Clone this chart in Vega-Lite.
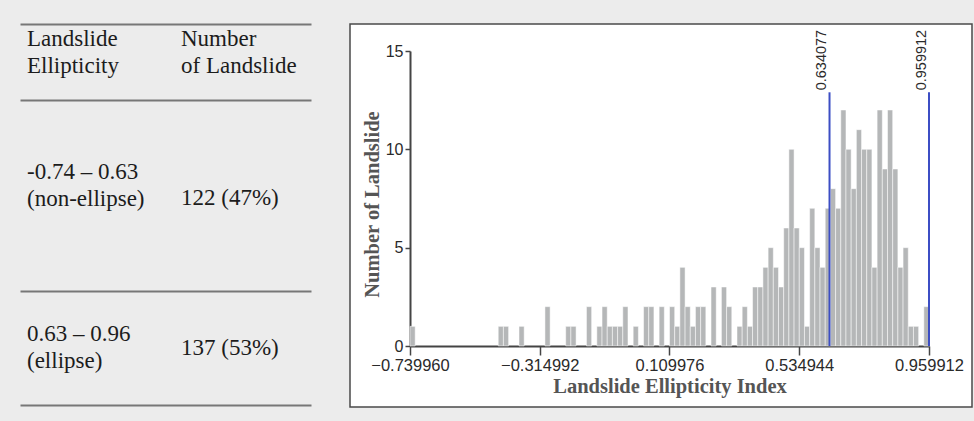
{
  "$schema": "https://vega.github.io/schema/vega-lite/v6.json",
  "background": "#ececec",
  "padding": {"left": 20, "top": 23, "right": 3, "bottom": 15},
  "config": {
    "view": {"stroke": null},
    "text": {"font": "Liberation Serif", "fontSize": 23, "color": "#1c1c1c", "lineHeight": 27, "align": "left", "baseline": "middle"}
  },
  "spacing": 38,
  "hconcat": [
    {
      "spacing": 0,
      "vconcat": [
        {
          "width": 291, "height": 76,
          "data": {"values": [
            {"row": "header", "col": "Landslide Ellipticity", "text": ["Landslide", "Ellipticity"]},
            {"row": "header", "col": "Number of Landslide", "text": ["Number", "of Landslide"]}
          ]},
          "mark": {"type": "text", "dy": -23},
          "encoding": {
            "x": {"field": "col", "type": "nominal", "scale": {"type": "point", "padding": 0.4448, "align": 0.0511},
                  "axis": {"orient": "top", "title": null, "labels": false, "ticks": false, "domain": true, "domainColor": "#777777", "domainWidth": 2, "grid": false}},
            "y": {"field": "row", "type": "nominal", "axis": null},
            "text": {"field": "text"}
          }
        },
        {
          "width": 291, "height": 191,
          "data": {"values": [
            {"row": "non-ellipse", "col": "Landslide Ellipticity", "text": ["-0.74 – 0.63", "(non-ellipse)"]},
            {"row": "non-ellipse", "col": "Number of Landslide", "text": "122 (47%)"}
          ]},
          "encoding": {
            "x": {"field": "col", "type": "nominal", "scale": {"type": "point", "padding": 0.4448, "align": 0.0511},
                  "axis": {"orient": "top", "title": null, "labels": false, "ticks": false, "domain": true, "domainColor": "#777777", "domainWidth": 2, "grid": false}},
            "y": {"field": "row", "type": "nominal", "axis": null},
            "text": {"field": "text"}
          },
          "layer": [
            {"transform": [{"filter": "datum.col === 'Landslide Ellipticity'"}], "mark": {"type": "text", "dy": -23.5}},
            {"transform": [{"filter": "datum.col === 'Number of Landslide'"}], "mark": {"type": "text", "dy": 2}}
          ]
        },
        {
          "width": 291, "height": 114,
          "data": {"values": [
            {"row": "ellipse", "col": "Landslide Ellipticity", "text": ["0.63 – 0.96", "(ellipse)"]},
            {"row": "ellipse", "col": "Number of Landslide", "text": "137 (53%)"}
          ]},
          "layer": [
            {
              "transform": [{"filter": "datum.col === 'Landslide Ellipticity'"}],
              "mark": {"type": "text", "dy": -14.5},
              "encoding": {
                "x": {"field": "col", "type": "nominal", "scale": {"type": "point", "padding": 0.4448, "align": 0.0511, "domain": ["Landslide Ellipticity", "Number of Landslide"]},
                      "axis": {"orient": "top", "title": null, "labels": false, "ticks": false, "domain": true, "domainColor": "#777777", "domainWidth": 2, "grid": false}},
                "y": {"field": "row", "type": "nominal", "axis": null},
                "text": {"field": "text"}
              }
            },
            {
              "transform": [{"filter": "datum.col === 'Number of Landslide'"}],
              "mark": {"type": "text"},
              "encoding": {
                "x": {"field": "col", "type": "nominal", "scale": {"type": "point", "padding": 0.4448, "align": 0.0511, "domain": ["Landslide Ellipticity", "Number of Landslide"]},
                      "axis": {"orient": "bottom", "title": null, "labels": false, "ticks": false, "domain": true, "domainColor": "#777777", "domainWidth": 2, "grid": false}},
                "y": {"field": "row", "type": "nominal", "axis": null},
                "text": {"field": "text"}
              }
            }
          ],
          "resolve": {"scale": {"x": "independent"}, "axis": {"x": "independent"}}
        }
      ]
    },
    {
      "width": 622, "height": 383,
      "view": {"fill": "white", "stroke": "#4a4a4a", "strokeWidth": 1.5},
      "layer": [
        {
          "data": {"values": [
            {"x0": -0.73996, "x1": -0.723, "count": 1},
            {"x0": -0.451, "x1": -0.434, "count": 1},
            {"x0": -0.434, "x1": -0.417, "count": 1},
            {"x0": -0.383, "x1": -0.366, "count": 1},
            {"x0": -0.298, "x1": -0.281, "count": 2},
            {"x0": -0.230, "x1": -0.213, "count": 1},
            {"x0": -0.213, "x1": -0.196, "count": 1},
            {"x0": -0.162, "x1": -0.145, "count": 2},
            {"x0": -0.128, "x1": -0.111, "count": 1},
            {"x0": -0.111, "x1": -0.094, "count": 2},
            {"x0": -0.094, "x1": -0.077, "count": 1},
            {"x0": -0.077, "x1": -0.060, "count": 1},
            {"x0": -0.060, "x1": -0.043, "count": 1},
            {"x0": -0.043, "x1": -0.026, "count": 2},
            {"x0": -0.009, "x1": 0.008, "count": 1},
            {"x0": 0.025, "x1": 0.042, "count": 2},
            {"x0": 0.042, "x1": 0.059, "count": 2},
            {"x0": 0.076, "x1": 0.093, "count": 2},
            {"x0": 0.110, "x1": 0.127, "count": 2},
            {"x0": 0.127, "x1": 0.144, "count": 1},
            {"x0": 0.144, "x1": 0.161, "count": 4},
            {"x0": 0.161, "x1": 0.178, "count": 2},
            {"x0": 0.178, "x1": 0.195, "count": 1},
            {"x0": 0.195, "x1": 0.212, "count": 2},
            {"x0": 0.212, "x1": 0.229, "count": 2},
            {"x0": 0.246, "x1": 0.263, "count": 3},
            {"x0": 0.280, "x1": 0.297, "count": 3},
            {"x0": 0.297, "x1": 0.314, "count": 2},
            {"x0": 0.331, "x1": 0.348, "count": 1},
            {"x0": 0.348, "x1": 0.365, "count": 2},
            {"x0": 0.365, "x1": 0.382, "count": 1},
            {"x0": 0.382, "x1": 0.399, "count": 3},
            {"x0": 0.399, "x1": 0.416, "count": 3},
            {"x0": 0.416, "x1": 0.433, "count": 4},
            {"x0": 0.433, "x1": 0.450, "count": 5},
            {"x0": 0.450, "x1": 0.467, "count": 4},
            {"x0": 0.467, "x1": 0.484, "count": 3},
            {"x0": 0.484, "x1": 0.501, "count": 6},
            {"x0": 0.501, "x1": 0.518, "count": 10},
            {"x0": 0.518, "x1": 0.535, "count": 6},
            {"x0": 0.535, "x1": 0.552, "count": 5},
            {"x0": 0.552, "x1": 0.569, "count": 1},
            {"x0": 0.569, "x1": 0.586, "count": 7},
            {"x0": 0.586, "x1": 0.603, "count": 5},
            {"x0": 0.603, "x1": 0.620, "count": 4},
            {"x0": 0.620, "x1": 0.637, "count": 7},
            {"x0": 0.637, "x1": 0.654, "count": 8},
            {"x0": 0.654, "x1": 0.671, "count": 7},
            {"x0": 0.671, "x1": 0.688, "count": 12},
            {"x0": 0.688, "x1": 0.705, "count": 10},
            {"x0": 0.705, "x1": 0.722, "count": 8},
            {"x0": 0.722, "x1": 0.739, "count": 11},
            {"x0": 0.739, "x1": 0.756, "count": 10},
            {"x0": 0.756, "x1": 0.773, "count": 10},
            {"x0": 0.773, "x1": 0.790, "count": 4},
            {"x0": 0.790, "x1": 0.807, "count": 12},
            {"x0": 0.807, "x1": 0.824, "count": 9},
            {"x0": 0.824, "x1": 0.841, "count": 12},
            {"x0": 0.841, "x1": 0.858, "count": 9},
            {"x0": 0.858, "x1": 0.875, "count": 4},
            {"x0": 0.875, "x1": 0.892, "count": 5},
            {"x0": 0.892, "x1": 0.909, "count": 1},
            {"x0": 0.909, "x1": 0.926, "count": 1},
            {"x0": 0.943, "x1": 0.959912, "count": 2}
          ]},
          "mark": {"type": "rect", "color": "#b5b7b8", "stroke": "white", "strokeWidth": 0.5},
          "encoding": {
            "x": {"field": "x0", "type": "quantitative", "title": "Landslide Ellipticity Index",
                  "scale": {"domain": [-0.73996, 0.959912], "range": [60, 579], "nice": false, "zero": false},
                  "axis": {"orient": "bottom", "offset": -61, "values": [-0.73996, -0.314992, 0.109976, 0.534944, 0.959912], "format": ".6f",
                           "labelFont": "Liberation Sans", "labelFontSize": 16.5, "labelColor": "#2a2a2a", "labelFlush": false, "labelOverlap": false, "labelPadding": 2,
                           "tickSize": 9, "tickColor": "#444444", "tickWidth": 1.5, "domainColor": "#444444", "domainWidth": 2, "grid": false,
                           "titleFont": "Liberation Serif", "titleFontWeight": "bold", "titleFontSize": 20.5, "titleColor": "#555555", "titlePadding": 3}},
            "x2": {"field": "x1"},
            "y": {"field": "count", "type": "quantitative", "title": "Number of Landslide",
                  "scale": {"domain": [0, 15], "range": [322, 27], "nice": false},
                  "axis": {"orient": "left", "offset": -60, "values": [0, 5, 10, 15],
                           "labelFont": "Liberation Sans", "labelFontSize": 16, "labelColor": "#2a2a2a", "labelPadding": 2,
                           "tickSize": 5, "tickColor": "#444444", "tickWidth": 1.5, "domainColor": "#444444", "domainWidth": 2, "grid": false,
                           "titleFont": "Liberation Serif", "titleFontWeight": "bold", "titleFontSize": 20.5, "titleColor": "#555555", "titlePadding": 3, "titleY": 180}},
            "y2": {"datum": 0}
          }
        },
        {
          "data": {"values": [
            {"v": 0.634077, "label": "0.634077", "top": 12.9},
            {"v": 0.959912, "label": "0.959912", "top": 12.9}
          ]},
          "mark": {"type": "rule", "color": "#3c4ec4", "strokeWidth": 2},
          "encoding": {
            "x": {"field": "v", "type": "quantitative"},
            "y": {"field": "top", "type": "quantitative"},
            "y2": {"datum": 0}
          }
        },
        {
          "data": {"values": [
            {"v": 0.634077, "label": "0.634077", "top": 12.9},
            {"v": 0.959912, "label": "0.959912", "top": 12.9}
          ]},
          "mark": {"type": "text", "angle": 270, "align": "left", "baseline": "alphabetic", "dx": 2, "dy": -3.5,
                   "font": "Liberation Sans", "fontSize": 14.5, "color": "#2a2a2a", "lineHeight": 14},
          "encoding": {
            "x": {"field": "v", "type": "quantitative"},
            "y": {"field": "top", "type": "quantitative"},
            "text": {"field": "label"}
          }
        }
      ]
    }
  ]
}
